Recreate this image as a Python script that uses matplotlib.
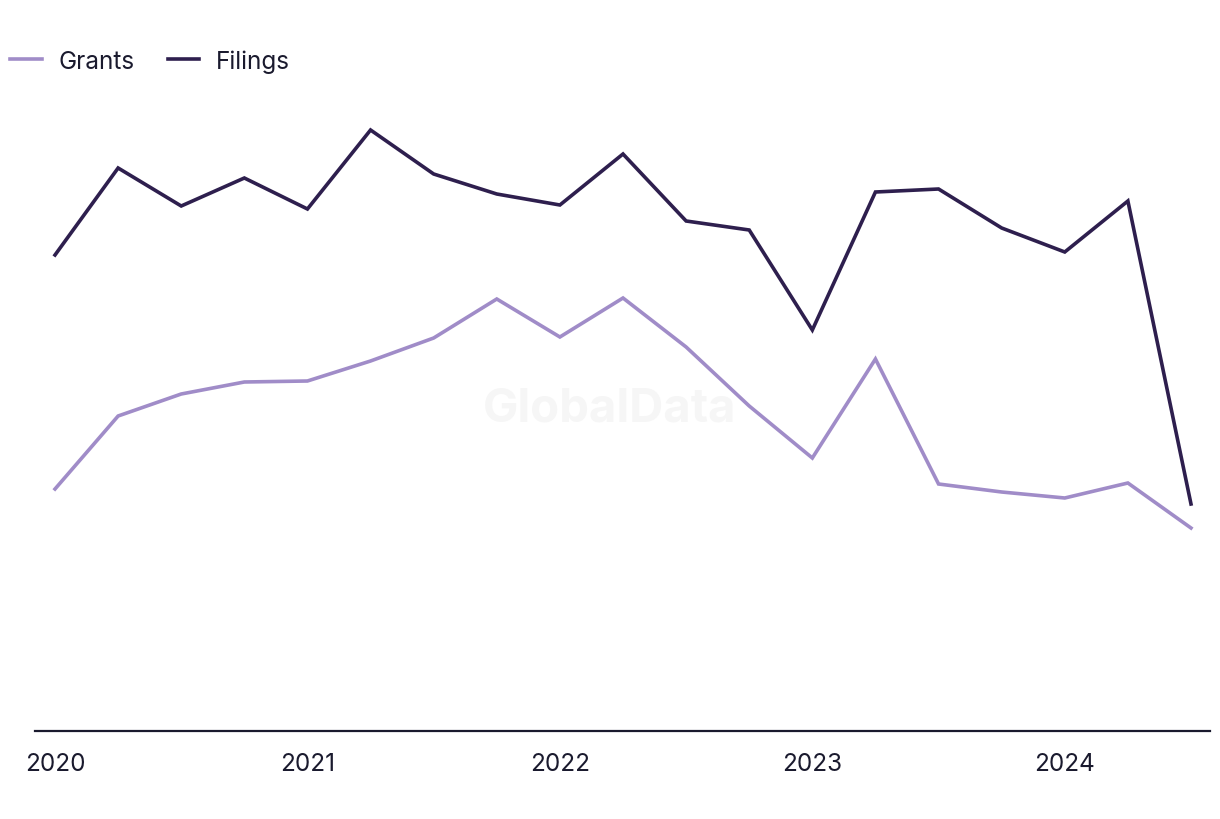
import matplotlib.pyplot as plt

plt.rcParams['font.family'] = ['Inter', 'DejaVu Sans']

quarters = list(range(19))
tick_pos = [0, 4, 8, 12, 16]
tick_labels = ['2020', '2021', '2022', '2023', '2024']

grants = [242, 315, 337, 349, 350, 370, 393, 432, 394, 433, 384, 325, 273, 372, 247, 239, 233, 248, 203]
filings = [476, 563, 525, 553, 522, 601, 557, 537, 526, 577, 510, 501, 401, 539, 542, 503, 479, 530, 227]

fig = plt.figure(figsize=(12.2, 8.2), dpi=100)
ax = fig.add_axes([35 / 1220, 1 - 730 / 820, 1175 / 1220, 630 / 820])

ax.plot(quarters, grants, color='#a08cc8', lw=2.6, label='Grants', solid_joinstyle='miter')
ax.plot(quarters, filings, color='#2e1f4e', lw=2.6, label='Filings', solid_joinstyle='miter')

ax.set_xlim(-20 / 63.1, 18 + 19 / 63.1)
ax.set_ylim(2, 632)

for s in ['top', 'right', 'left']:
    ax.spines[s].set_visible(False)
ax.spines['bottom'].set_color('#1a1a2e')
ax.spines['bottom'].set_linewidth(1.6)
ax.spines['bottom'].set_position(('data', 0))
ax.set_yticks([])
ax.set_xticks(tick_pos)
ax.set_xticklabels(tick_labels, fontsize=17.5, color='#1a1a2e')
ax.tick_params(axis='x', length=0, pad=15)

fig.text(0.5, 1 - 410 / 820, 'GlobalData', fontsize=34, fontweight='bold',
         color='#f6f6f6', ha='center', va='center', zorder=0)

fig.legend(loc='center left', bbox_to_anchor=(10 / 1220, 1 - 62 / 820), ncol=2,
           frameon=False, fontsize=17.5, handlelength=1.3, handletextpad=0.7,
           columnspacing=1.35, borderpad=0, borderaxespad=0, labelcolor='#1a1a2e')

fig.savefig('out.png', dpi=100)
